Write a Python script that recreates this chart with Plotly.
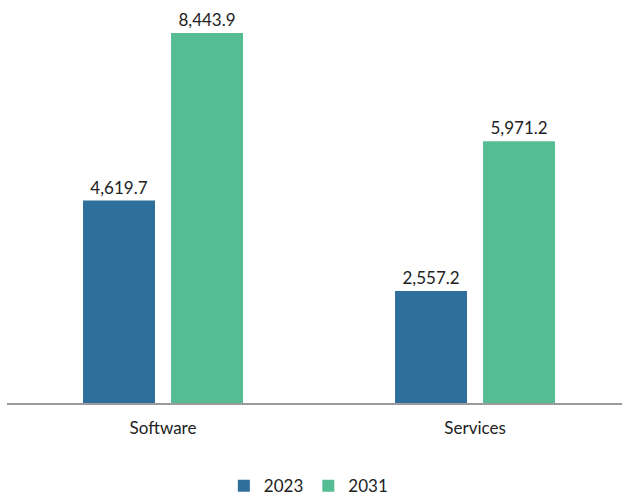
import plotly.graph_objects as go

categories = ["Software", "Services"]
years = ["2023", "2031"]
values_2023 = [4619.7, 2557.2]
values_2031 = [8443.9, 5971.2]
colors = {"2023": "#2E6F9C", "2031": "#56BC94"}

fig = go.Figure()
for yr, vals in zip(years, [values_2023, values_2031]):
    fig.add_trace(go.Bar(
        x=categories, y=vals, name=yr,
        marker=dict(color=colors[yr], line=dict(width=0)),
        texttemplate="%{y:,.1f}", textposition="outside",
        constraintext="none",
        textfont=dict(size=17, color="#222222", family="Lato"),
        cliponaxis=False,
    ))

fig.update_layout(
    width=622, height=495,
    margin=dict(l=7, r=0, t=10, b=92, autoexpand=False),
    paper_bgcolor="white", plot_bgcolor="white",
    barmode="group", bargap=0.436, bargroupgap=0.182,
    font=dict(family="Lato", color="#222222"),
    showlegend=True,
    legend=dict(orientation="h", x=0.49, xanchor="center", xref="paper",
                y=-0.166, yanchor="top", yref="paper",
                font=dict(size=17, color="#222222"), itemwidth=30,
                traceorder="normal"),
    xaxis=dict(range=[-0.5, 1.471], showline=True, linecolor="#9a9a9a", linewidth=2,
               ticks="", tickfont=dict(size=17, color="#222222"), ticklabelstandoff=9,
               showgrid=False, zeroline=False),
    yaxis=dict(range=[0, 8969], visible=False, showgrid=False, zeroline=False),
)

fig.write_html("out.html")
